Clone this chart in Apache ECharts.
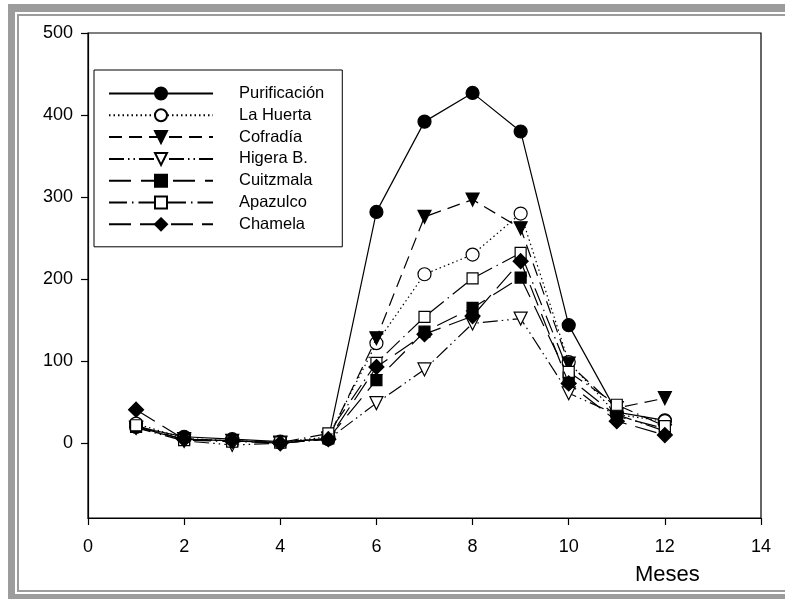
<!DOCTYPE html>
<html>
<head>
<meta charset="utf-8">
<script src="https://cdn.jsdelivr.net/npm/echarts@6/dist/echarts.min.js"></script>
<style>html,body{margin:0;padding:0;background:#fff;}#c{width:785px;height:599px;}</style>
</head>
<body>
<div id="c"></div>
<script>
const months = [1, 2, 3, 4, 5, 6, 7, 8, 9, 10, 11, 12];
const xTicks = [0, 2, 4, 6, 8, 10, 12, 14];
const yTicks = [0, 100, 200, 300, 400, 500];
const seriesNames = ['Purificación', 'La Huerta', 'Cofradía', 'Higera B.', 'Cuitzmala', 'Apazulco', 'Chamela'];
const purificacion = [20, 8, 5, 2, 5, 282, 392, 427, 380, 144, 38, 28];
const laHuerta     = [24, 6, 3, 1, 8, 122, 206, 230, 280, 99, 35, 27];
const cofradia     = [19, 5, 3, 1, 6, 128, 276, 297, 262, 97, 43, 55];
const higeraB      = [19, 3, -2, 0, 5, 49, 90, 146, 152, 61, 35, 15];
const cuitzmala    = [20, 5, 3, 1, 6, 77, 136, 165, 202, 80, 33, 18];
const apazulco     = [22, 4, 2, 1, 12, 98, 154, 201, 232, 87, 47, 21];
const chamela      = [41, 5, 3, 0, 5, 93, 133, 155, 222, 73, 27, 10];
const allValues = [purificacion, laHuerta, cofradia, higeraB, cuitzmala, apazulco, chamela];

const styles = [
  {symbol: 'circle', size: 13, rot: 0, fill: '#000', dash: 'solid'},
  {symbol: 'circle', size: 13, rot: 0, fill: '#fff', dash: [1.5, 3]},
  {symbol: 'triangle', size: 13, rot: 180, fill: '#000', dash: [13, 7]},
  {symbol: 'triangle', size: 13, rot: 180, fill: '#fff', dash: [15, 4, 1.5, 4, 1.5, 4]},
  {symbol: 'rect', size: 11, rot: 0, fill: '#000', dash: [22, 10]},
  {symbol: 'rect', size: 11, rot: 0, fill: '#fff', dash: [18, 5, 1.5, 5]},
  {symbol: 'diamond', size: 15, rot: 0, fill: '#000', dash: [22, 9]}
];

const FONT = 'Liberation Sans, Arial, sans-serif';
const series = seriesNames.map((name, i) => ({
  name: name,
  type: 'line',
  data: months.map((m, j) => [m, allValues[i][j]]),
  symbol: styles[i].symbol,
  symbolSize: styles[i].size,
  symbolRotate: styles[i].rot,
  showAllSymbol: true,
  itemStyle: {color: styles[i].fill, borderColor: '#000', borderWidth: 1.2},
  lineStyle: {color: '#000', width: 1.2, type: styles[i].dash},
  emphasis: {disabled: true},
  z: 2 + i
}));

const chart = echarts.init(document.getElementById('c'));
chart.setOption({
  animation: false,
  backgroundColor: '#fff',
  grid: {left: 88, top: 33, right: 24, bottom: 81, show: true, borderColor: '#000', borderWidth: 1.2, backgroundColor: 'transparent'},
  xAxis: {
    type: 'value', min: 0, max: 14, interval: 2,
    axisLine: {show: true, onZero: false, lineStyle: {color: '#000', width: 1.2}},
    axisTick: {show: true, length: 7, lineStyle: {color: '#000', width: 1.2}},
    axisLabel: {color: '#000', fontSize: 18, fontFamily: FONT, margin: 20,
      formatter: v => xTicks.indexOf(v) >= 0 ? String(v) : ''},
    splitLine: {show: false}
  },
  yAxis: {
    type: 'value', min: -91, max: 500,
    axisLine: {show: true, onZero: false, lineStyle: {color: '#000', width: 1.2}},
    axisTick: {show: true, length: 7, customValues: yTicks, lineStyle: {color: '#000', width: 1.2}},
    axisLabel: {color: '#000', fontSize: 18, fontFamily: FONT, margin: 15, customValues: yTicks},
    splitLine: {show: false}
  },
  legend: {
    orient: 'vertical', left: 94, top: 70,
    padding: [15, 18, 14, 14],
    itemWidth: 104, itemHeight: 15, itemGap: 4.8,
    borderColor: '#000', borderWidth: 1, backgroundColor: '#fff',
    textStyle: {color: '#000', fontSize: 16.5, fontFamily: FONT, padding: [0, 0, 0, 21]},
    data: seriesNames,
    selectedMode: false
  },
  graphic: [
    {type: 'rect', shape: {x: 8, y: 4, width: 777, height: 8}, style: {fill: '#9c9c9c'}, silent: true},
    {type: 'rect', shape: {x: 8, y: 4, width: 7, height: 595}, style: {fill: '#9c9c9c'}, silent: true},
    {type: 'rect', shape: {x: 8, y: 594, width: 777, height: 5}, style: {fill: '#9c9c9c'}, silent: true},
    {type: 'rect', shape: {x: 17, y: 14, width: 768, height: 2}, style: {fill: '#9c9c9c'}, silent: true},
    {type: 'rect', shape: {x: 17, y: 14, width: 2, height: 577}, style: {fill: '#9c9c9c'}, silent: true},
    {type: 'rect', shape: {x: 17, y: 590, width: 768, height: 2}, style: {fill: '#9c9c9c'}, silent: true},
    {type: 'text', left: 635, top: 564, style: {text: 'Meses', fill: '#000', font: '22px ' + FONT}, silent: true}
  ],
  series: series
});
</script>
</body>
</html>
